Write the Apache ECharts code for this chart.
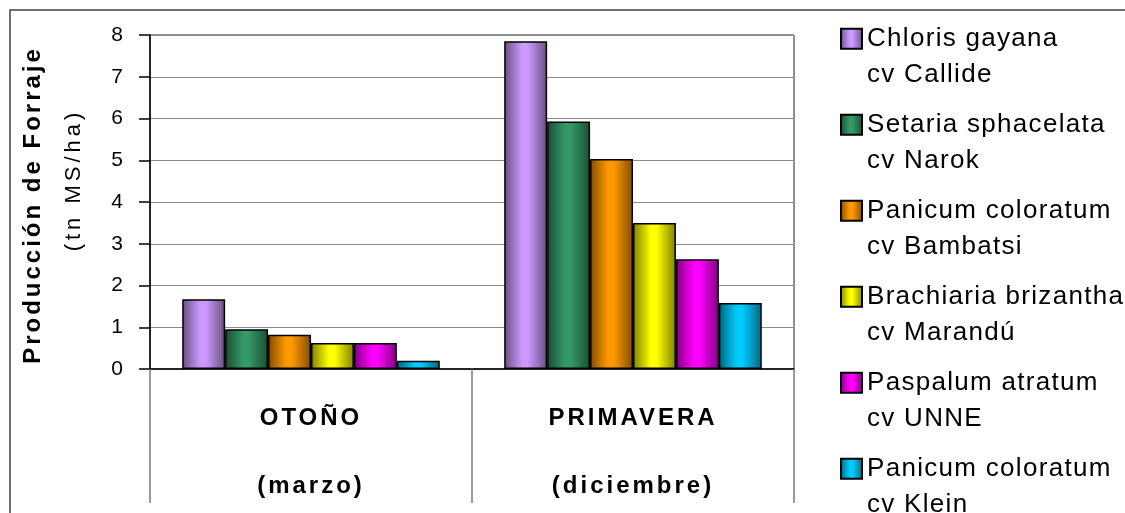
<!DOCTYPE html>
<html>
<head>
<meta charset="utf-8">
<style>
  html, body { margin: 0; padding: 0; background: #fff; }
  #chart { width: 1125px; height: 513px; }
</style>
<script src="https://cdn.jsdelivr.net/npm/echarts@6/dist/echarts.min.js"></script>
</head>
<body>
<div id="chart"></div>
<script>
// ---- data ----
const seasons = ['OTOÑO', 'PRIMAVERA'];
const months = ['(marzo)', '(diciembre)'];
const species = ['Chloris gayana', 'Setaria sphacelata', 'Panicum coloratum', 'Brachiaria brizantha', 'Paspalum atratum', 'Panicum coloratum'];
const cultivars = ['cv Callide', 'cv Narok', 'cv Bambatsi', 'cv Marandú', 'cv UNNE', 'cv Klein'];
const otono = [1.67, 0.95, 0.82, 0.62, 0.62, 0.20];
const primavera = [7.85, 5.93, 5.03, 3.50, 2.63, 1.58];
const yTicks = [0, 1, 2, 3, 4, 5, 6, 7, 8];
const yTitle = 'Producción de Forraje';
const yUnit = '(tn MS/ha)';

// ---- styles ----
const baseColors = ['#CC99FF', '#339966', '#FF9900', '#FFFF00', '#FF00FF', '#00CCFF'];
const darkColors = ['#66507F', '#1A4D33', '#804D00', '#808000', '#800080', '#006680'];
const FONT = 'Liberation Sans';

// letter spacing emulation (Excel-like spaced text)
(function () {
  const proto = CanvasRenderingContext2D.prototype;
  const orig = proto.fillText;
  proto.fillText = function (t, x, y, m) {
    const f = this.font || '';
    let ls = '0px';
    if (/bold 24px/.test(f)) ls = '3px';
    else if (/\b26px/.test(f)) ls = '1.3px';
    else if (/\b22px/.test(f)) ls = '4px';
    const prev = this.letterSpacing;
    if ('letterSpacing' in this) this.letterSpacing = ls;
    const r = m === undefined ? orig.call(this, t, x, y) : orig.call(this, t, x, y, m);
    if ('letterSpacing' in this) this.letterSpacing = prev || '0px';
    return r;
  };
})();

function grad(i) {
  return new echarts.graphic.LinearGradient(0, 0, 1, 0, [
    { offset: 0, color: darkColors[i] },
    { offset: 0.42, color: baseColors[i] },
    { offset: 0.55, color: baseColors[i] },
    { offset: 1, color: darkColors[i] }
  ]);
}

const series = species.map((name, i) => ({
  type: 'bar',
  name: name + '|' + i,
  data: [otono[i], primavera[i]],
  barGap: '0%',
  barCategoryGap: '20%',
  itemStyle: { color: grad(i), borderColor: '#000', borderWidth: 1.5 },
  emphasis: { disabled: true }
}));

const chart = echarts.init(document.getElementById('chart'), null, { renderer: 'canvas' });
chart.setOption({
  animation: false,
  backgroundColor: '#fff',
  grid: {
    left: 150, right: 331, top: 35, bottom: 144, containLabel: false,
    show: true, borderColor: '#222', borderWidth: 1
  },
  xAxis: {
    type: 'category',
    data: seasons,
    axisLine: { show: true, lineStyle: { color: '#000', width: 1.5 } },
    axisTick: { show: true, length: 134, lineStyle: { color: '#7a7a7a', width: 1.5 } },
    axisLabel: {
      margin: 32,
      interval: 0,
      fontFamily: FONT, fontSize: 24, fontWeight: 'bold', color: '#000', lineHeight: 34,
      formatter: (v, idx) => seasons[idx] + '\n\n' + months[idx]
    }
  },
  yAxis: {
    type: 'value', min: 0, max: 8, interval: 1,
    axisLine: { show: true, lineStyle: { color: '#000', width: 1.5 } },
    axisTick: { show: true, length: 11, lineStyle: { color: '#000', width: 1.5 } },
    splitLine: { show: true, lineStyle: { color: '#8c8c8c', width: 1 } },
    axisLabel: {
      margin: 27, fontFamily: FONT, fontSize: 21, color: '#000',
      formatter: v => String(yTicks[yTicks.indexOf(v)])
    }
  },
  legend: {
    orient: 'vertical', left: 840, top: -16, height: 3000, padding: 0,
    itemWidth: 21, itemHeight: 20, itemGap: -23.5,
    icon: 'rect', selectedMode: false,
    data: species.map((s, i) => s + '|' + i),
    formatter: n => { const i = +n.split('|')[1]; return '\n' + species[i] + '\n' + cultivars[i]; },
    textStyle: { fontFamily: FONT, fontSize: 26, lineHeight: 36.5, color: '#000' }
  },
  graphic: [
    { type: 'rect', z: -10, shape: { x: 10, y: 10, width: 1300, height: 700 },
      style: { fill: 'none', stroke: '#404040', lineWidth: 1.5 } },
    { type: 'text', x: 33, y: 205, rotation: Math.PI / 2,
      style: { text: yTitle, font: 'bold 24px "Liberation Sans"', fill: '#000', align: 'center', verticalAlign: 'middle' } },
    { type: 'text', x: 74, y: 180, rotation: Math.PI / 2,
      style: { text: yUnit, font: '22px "Liberation Sans"', fill: '#000', align: 'center', verticalAlign: 'middle' } }
  ],
  series: series
});
</script>
</body>
</html>
